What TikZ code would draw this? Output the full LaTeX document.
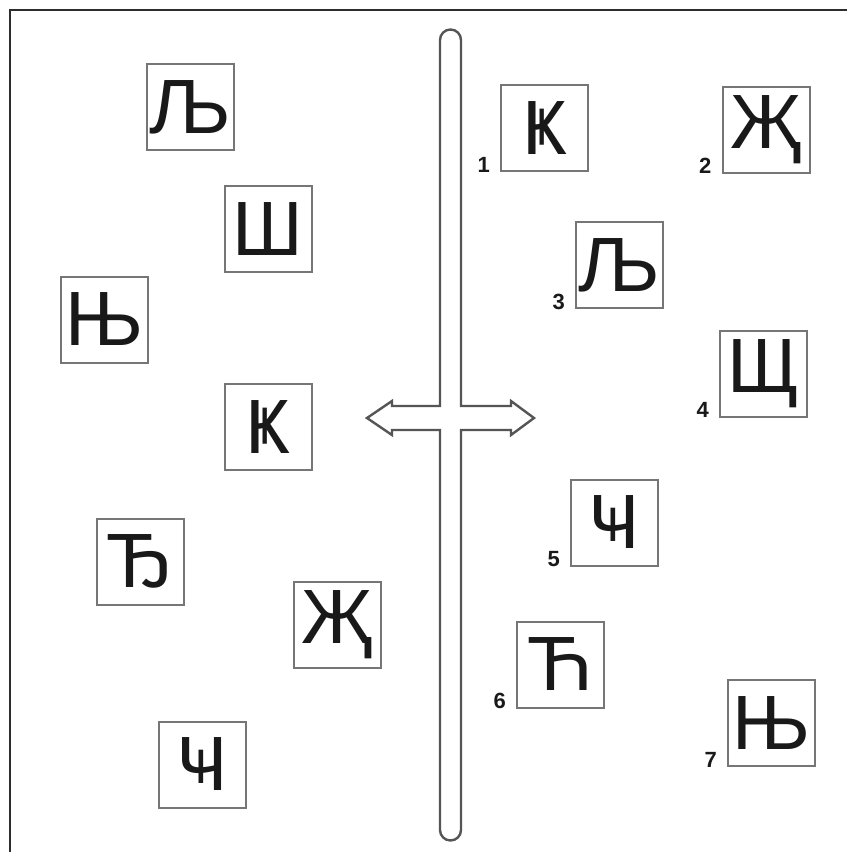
\documentclass[tikz,border=0pt]{standalone}
\usepackage{fontspec}
\setmainfont{Liberation Sans}
\definecolor{boxgray}{RGB}{118,118,118}
\definecolor{bargray}{RGB}{85,85,85}
\definecolor{lettercol}{RGB}{25,25,25}
\definecolor{framecol}{RGB}{45,45,45}
\begin{document}
\begin{tikzpicture}[x=1pt,y=-1pt,
  tile/.style={draw=boxgray, line width=2pt, fill=white, minimum width=87pt, minimum height=86pt,
    inner sep=0pt, text=lettercol, font=\fontsize{77}{77}\selectfont},
  num/.style={inner sep=0pt, text=lettercol, font=\bfseries\fontsize{22}{22}\selectfont, anchor=base east},
  barline/.style={draw=bargray, line width=2.4pt, fill=white, line join=miter},
  framel/.style={draw=framecol, line width=2.5pt}]
\useasboundingbox (0,0) rectangle (847,852);
\fill[white] (0,0) rectangle (847,852);
\draw[framel] (10,852) -- (10,10) -- (847,10);
% bar with double arrow
\draw[barline] (440,406) -- (392,406) -- (392,401) -- (367,418) -- (392,435) -- (392,430) -- (440,430)
  -- (440,830) .. controls (440,835.8) and (444.7,840.5) .. (450.5,840.5)
  .. controls (456.3,840.5) and (461,835.8) .. (461,830)
  -- (461,430) -- (511,430) -- (511,435) -- (534,418) -- (511,401) -- (511,406) -- (461,406)
  -- (461,40) .. controls (461,34.2) and (456.3,29.5) .. (450.5,29.5)
  .. controls (444.7,29.5) and (440,34.2) .. (440,40) -- cycle;
% left column
\node[tile] (L1) at (190.5,107) {Љ};
\node[tile] (L2) at (268,229) {Ш};
\node[tile] (L3) at (104,319.5) {Њ};
\node[tile] (L4) at (268,427) {Ҝ};
\node[tile] (L5) at (140,561.5) {Ђ};
\node[tile] (L6) at (337,624.5) {Җ};
\node[tile] (L7) at (202,764.5) {Ҹ};
% right column
\node[tile] (R1) at (544.5,128) {Ҝ};
\node[tile] (R2) at (766,129.5) {Җ};
\node[tile] (R3) at (619.5,265) {Љ};
\node[tile] (R4) at (763.5,373.5) {Щ};
\node[tile] (R5) at (614.5,522.5) {Ҹ};
\node[tile] (R6) at (560.5,664.5) {Ћ};
\node[tile] (R7) at (771.5,723) {Њ};
% numbers
\node[num] (n1) at ([shift={(-10,0)}]R1.south west) {1};
\node[num] (n2) at ([shift={(-10,0)}]R2.south west) {2};
\node[num] (n3) at ([shift={(-10,0)}]R3.south west) {3};
\node[num] (n4) at ([shift={(-10,0)}]R4.south west) {4};
\node[num] (n5) at ([shift={(-10,0)}]R5.south west) {5};
\node[num] (n6) at ([shift={(-10,0)}]R6.south west) {6};
\node[num] (n7) at ([shift={(-10,0)}]R7.south west) {7};
\end{tikzpicture}
\end{document}
